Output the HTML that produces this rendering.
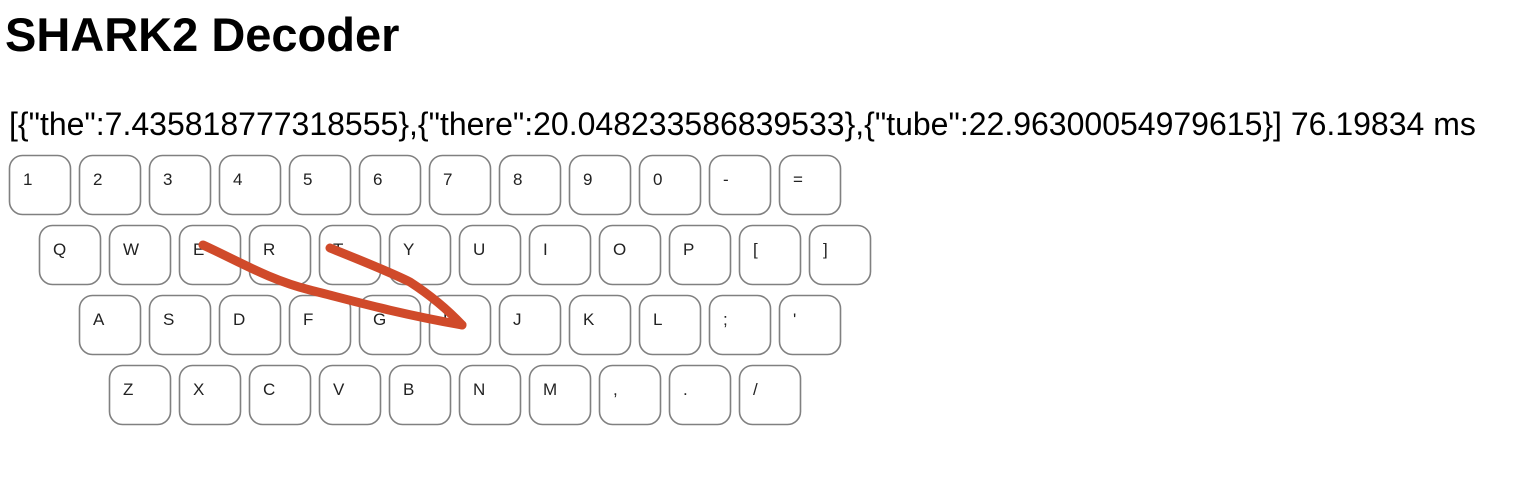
<!DOCTYPE html>
<html><head><meta charset="utf-8"><style>
body{margin:0;background:#fff;width:1518px;height:500px;overflow:hidden;font-family:"Liberation Sans",sans-serif}
h1{position:absolute;left:5px;top:11px;margin:0;font-size:47px;line-height:1;font-weight:bold;color:#000;white-space:nowrap}
.r{position:absolute;left:9px;top:108px;font-size:32px;line-height:1;color:#000;white-space:nowrap}
svg{position:absolute;left:0;top:0}
</style></head><body>
<h1>SHARK2 Decoder</h1>
<div class="r">[{"the":7.435818777318555},{"there":20.048233586839533},{"tube":22.96300054979615}] 76.19834 ms</div>
<svg width="1518" height="500" font-family="Liberation Sans, sans-serif" font-size="17" fill="#222">
<g id="k"></g>
<path d="M203,245 C240,262 270,280 310,290 C350,300 390,312 462,325" stroke="#d04a2a" stroke-width="9" fill="none" stroke-linecap="round"/>
<path d="M330,248 C360,260 390,272 410,282 C430,295 448,310 462,325" stroke="#d04a2a" stroke-width="9" fill="none" stroke-linecap="round"/>
</svg>
<script>
var rows=[["1234567890-=",10,156],["QWERTYUIOP[]",40,226],["ASDFGHJKL;'",80,296],["ZXCVBNM,./",110,366]];
var g=document.getElementById('k'),s='';
rows.forEach(function(r){for(var i=0;i<r[0].length;i++){var x=r[1]+i*70,y=r[2];
s+='<rect x="'+(x-0.5)+'" y="'+(y-0.5)+'" width="61" height="59" rx="13" fill="#fff" stroke="#808080" stroke-width="1.6"/>';
var c=r[0][i];
s+='<text x="'+(x+13)+'" y="'+(y+29)+'">'+c+'</text>';}});
g.innerHTML=s;
</script>
</body></html>
